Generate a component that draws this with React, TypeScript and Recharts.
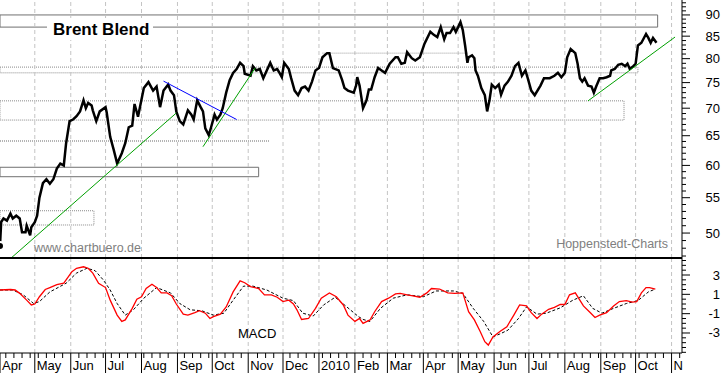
import React from 'react';
import { LineChart, Line, XAxis, YAxis, ReferenceLine, ReferenceArea } from 'recharts';

// x values are days counted from 1 Apr 2009
const monthDays = [0, 30, 61, 91, 122, 153, 183, 214, 244, 275, 306, 334, 365, 395, 426, 456, 487, 518, 548, 579];
const monthLabels = ['Apr', 'May', 'Jun', 'Jul', 'Aug', 'Sep', 'Oct', 'Nov', 'Dec', '2010', 'Feb', 'Mar', 'Apr', 'May', 'Jun', 'Jul', 'Aug', 'Sep', 'Oct', 'N'];

const priceDays = [0, 1, 3, 6, 9, 11, 14, 17, 19, 22, 23, 26, 27, 30, 32, 34, 37, 40, 43, 46, 49, 52, 55, 57, 60, 63, 66, 69, 72, 74, 76, 79, 80, 83, 86, 91, 92, 95, 98, 101, 105, 108, 111, 114, 116, 119, 124, 128, 132, 135, 138, 141, 145, 147, 150, 152, 155, 158, 162, 165, 167, 170, 173, 175, 177, 180, 182, 185, 187, 190, 192, 195, 198, 201, 204, 207, 210, 211, 216, 218, 221, 224, 227, 230, 233, 236, 239, 241, 243, 245, 249, 251, 254, 257, 260, 263, 266, 269, 272, 275, 278, 282, 284, 287, 292, 295, 297, 300, 305, 307, 308, 310, 313, 316, 318, 320, 323, 326, 329, 332, 336, 341, 343, 346, 349, 351, 355, 358, 362, 366, 371, 374, 377, 380, 383, 385, 388, 391, 393, 395, 397, 399, 401, 403, 404, 407, 409, 410, 412, 415, 418, 420, 422, 424, 427, 430, 432, 435, 438, 441, 444, 447, 450, 453, 455, 458, 461, 466, 469, 474, 478, 481, 484, 487, 489, 492, 496, 498, 500, 502, 504, 507, 510, 512, 514, 517, 520, 523, 526, 527, 530, 533, 536, 539, 541, 543, 546, 548, 550, 553, 557, 559, 561, 563, 566];
const priceValues = [48.3, 51.5, 52, 51.7, 52.7, 52, 52.4, 52, 50.1, 50.1, 51, 49.7, 50.8, 51.5, 52.4, 55, 57.2, 57.8, 57.1, 57.8, 59.5, 60.3, 60, 63.7, 67.6, 67.9, 68.5, 69.4, 71.5, 70, 71, 70.5, 69.6, 67.6, 69.4, 70.2, 69.2, 64.8, 62.6, 60.3, 62, 63.7, 66.5, 66.8, 70.8, 68.4, 73.9, 75.1, 73.4, 74.2, 70.2, 73.4, 74.6, 73.4, 72.5, 69.4, 67.6, 67, 69.6, 68.8, 67.9, 71.5, 70.2, 69.4, 66.3, 65.1, 66.5, 68.8, 67.9, 68.8, 70, 73, 75.5, 77, 77.8, 79.1, 78.4, 76.8, 76.4, 78.4, 77.5, 77.8, 75.9, 77.5, 79.1, 77.5, 77.8, 77, 76.1, 79.1, 77.8, 75.9, 73.4, 72.5, 73.9, 74.2, 73.4, 75.2, 77.5, 78, 80.3, 81.2, 81.2, 78, 77.5, 75.5, 73.9, 73.4, 73, 74.4, 76.1, 74.4, 70, 71.5, 73.6, 73.6, 76.1, 78, 77.5, 77, 78.9, 80.3, 80.3, 78.9, 79.1, 81.4, 80.1, 79.6, 80.3, 83.3, 86, 85.3, 84.8, 87.1, 84.3, 85.7, 85.7, 87.1, 86, 87.1, 88.3, 86.4, 82.9, 79.1, 80.3, 80.7, 80.1, 77.5, 76.4, 73.9, 72.5, 69.4, 71.5, 74.6, 73.9, 74.6, 72.6, 74.4, 75.2, 76.4, 78.4, 79.1, 76.4, 77.5, 75.9, 73.4, 72.5, 74.4, 75.9, 75.9, 76.4, 77, 76.1, 77, 80.3, 82.1, 81.2, 78.9, 75.9, 75.2, 75.9, 74.4, 74.2, 73, 74.2, 75.9, 75.9, 76.1, 76.4, 77.5, 77.8, 78.7, 78.9, 78.4, 78.9, 77.8, 78.4, 78.9, 82.9, 83.5, 85.5, 84.6, 83.5, 84.6, 83.5];

const macdDays = [0, 9, 13, 17, 23, 27, 30, 34, 39, 43, 49, 55, 57, 62, 66, 72, 76, 80, 85, 91, 95, 101, 105, 108, 114, 118, 122, 126, 131, 135, 139, 144, 148, 152, 158, 162, 168, 172, 177, 181, 184, 190, 195, 201, 207, 211, 216, 223, 228, 234, 239, 244, 249, 253, 256, 260, 266, 272, 277, 284, 290, 296, 300, 306, 310, 313, 319, 323, 329, 335, 341, 345, 351, 356, 362, 368, 372, 379, 386, 392, 399, 404, 409, 414, 418, 421, 425, 431, 437, 443, 448, 454, 458, 463, 467, 473, 478, 483, 487, 491, 496, 503, 509, 513, 517, 523, 529, 534, 540, 545, 549, 553, 557, 560, 565];
const macdValues = [1.45, 1.5, 1.45, 1.1, 0.4, -0.1, 0, 0.75, 1.5, 1.7, 2.0, 2.15, 2.5, 3.35, 3.7, 3.85, 3.7, 3.2, 2.15, 1.7, 0.4, -1.15, -1.8, -1.65, -0.45, 0.5, 0.75, 1.6, 2.05, 1.7, 1.15, 1.15, 0.85, 0, -1.05, -1.15, -0.9, -0.7, -0.95, -1.5, -1.3, -1.05, -0.3, 1.25, 2.4, 2.2, 1.8, 1.6, 0.95, 0.95, 0.7, 0.25, 0.4, 0, -0.6, -1.6, -1.5, -0.45, 0.6, 1.15, 0.75, -0.1, -1.15, -1.8, -1.5, -2.0, -1.65, -0.8, 0.25, 0.6, 1.05, 1.1, 0.95, 0.85, 0.7, 1.15, 1.6, 1.55, 1.15, 1.1, 1.15, -0.8, -1.65, -2.85, -3.9, -4.25, -3.4, -2.85, -2.35, -1.15, -0.1, -0.2, -0.9, -1.5, -1.05, -0.55, -0.35, -0.05, -0.05, 0.95, 1.15, -0.2, -0.9, -1.4, -1.15, -0.9, -0.2, 0.25, 0.35, 0.2, 0.25, 1.15, 1.7, 1.7, 1.55];

const signalDays = [0, 11, 20, 29, 34, 43, 57, 66, 75, 82, 89, 95, 101, 108, 115, 124, 135, 147, 155, 164, 174, 184, 193, 201, 210, 218, 230, 244, 253, 261, 270, 279, 289, 299, 309, 313, 319, 328, 339, 351, 365, 376, 391, 399, 408, 417, 425, 431, 438, 447, 454, 463, 471, 483, 494, 503, 511, 519, 529, 540, 550, 559, 565];
const signalValues = [1.45, 1.45, 0.95, 0.05, 0.25, 1.25, 2.15, 3.2, 3.7, 3.45, 2.5, 1.45, 0.05, -1.15, -0.6, 0.6, 1.7, 1.15, 0.05, -0.6, -0.7, -1.15, -0.95, 0.4, 1.85, 1.85, 1.45, 0.6, 0.35, -0.95, -1.25, -0.1, 0.7, -0.3, -1.3, -1.6, -1.8, -0.45, 0.6, 0.95, 0.75, 1.35, 1.35, 1.1, -0.45, -1.8, -3.4, -3.1, -2.7, -1.5, -0.3, -1.05, -0.95, -0.4, 0.4, 0.85, -0.45, -0.95, -0.45, 0.05, 0.35, 1.25, 1.55];

// support / resistance boxes: [fromDay, toDay, low, high]
const boxes = [
  [0, 567, 87.1, 90],
  [0, 550, 77.0, 78.2],
  [0, 538, 67.8, 71.4],
  [0, 223, 58.2, 59.7],
  [0, 81, 51.1, 53.1],
];
// trend lines: [day1, value1, day2, value2]
const greenLines = [
  [10, 46.8, 152, 69.1],
  [175, 63.1, 220, 78.0],
  [507, 71.4, 582, 84.8],
];
const blueLine = [141, 75.3, 204, 67.9];
const macdLabels = [-3, -1, 1, 3];

const priceData = priceDays.map((day, i) => ({ day, price: priceValues[i] }));
const macdData = macdDays.map((day, i) => ({ day, macd: macdValues[i] }));
const signalData = signalDays.map((day, i) => ({ day, signal: signalValues[i] }));

const X_DOMAIN: [number, number] = [0, 588];
const PRICE_DOMAIN: [number, number] = [46.75, 93.7];
const MACD_DOMAIN: [number, number] = [-5.07, 4.76];

const priceTicks: number[] = [];
for (let v = 47; v <= 93; v++) priceTicks.push(v);
const macdTicks: number[] = [];
for (let v = -5; v <= 4.5; v += 0.5) macdTicks.push(v);
const weekDays: number[] = [];
for (let d = 5; d < 588; d += 7) if (!monthDays.some((m) => Math.abs(m - d) < 2)) weekDays.push(d);
const dateTicks = [...monthDays, ...weekDays].sort((a, b) => a - b);

const font = 'Arial, "Liberation Sans", sans-serif';
const narrow = '"Liberation Sans Narrow", Arial, sans-serif';

const PriceTick = (props: any) => {
  const { x, y, payload } = props;
  const major = payload.value % 5 === 0;
  return (
    <g>
      <line x1={x} x2={x + (major ? 8 : 4)} y1={y} y2={y} stroke="#000" />
      {major && (
        <text x={x + 38} y={y + 4.5} textAnchor="end" fontSize={13} fontFamily={font} fill="#000">
          {payload.value}
        </text>
      )}
    </g>
  );
};

const MacdTick = (props: any) => {
  const { x, y, payload } = props;
  const major = macdLabels.includes(payload.value);
  return (
    <g>
      <line x1={x} x2={x + (major ? 8 : 4)} y1={y} y2={y} stroke="#000" />
      {major && (
        <text x={x + 38} y={y + 4.5} textAnchor="end" fontSize={13} fontFamily={font} fill="#000">
          {payload.value}
        </text>
      )}
    </g>
  );
};

const DateTick = (props: any) => {
  const { x, y, payload } = props;
  const i = monthDays.indexOf(payload.value);
  if (i < 0) return <line x1={x} x2={x} y1={y} y2={y + 5} stroke="#000" />;
  return (
    <g>
      <line x1={x} x2={x} y1={y} y2={y + 20} stroke="#000" />
      <text x={x + 2} y={y + 17} fontSize={13} fontFamily={narrow} fill="#000">
        {monthLabels[i]}
      </text>
    </g>
  );
};

const gridLines = monthDays.slice(1).map((d) => (
  <ReferenceLine key={'g' + d} x={d} stroke="#c4c4c4" strokeDasharray="4 3" />
));

export default function App() {
  return (
    <div style={{ position: 'absolute', left: 0, top: 0, width: 723, height: 373, background: '#fff', overflow: 'hidden' }}>
      <div style={{ position: 'absolute', left: 0, top: 0 }}>
        <LineChart width={723} height={258} margin={{ top: 0, right: 0, bottom: 0, left: 0 }}>
          <XAxis type="number" dataKey="day" domain={X_DOMAIN} allowDataOverflow hide />
          <YAxis
            orientation="right"
            width={41}
            scale="log"
            domain={PRICE_DOMAIN}
            allowDataOverflow
            ticks={priceTicks}
            interval={0}
            tick={<PriceTick />}
            tickSize={0}
            tickMargin={0}
            tickLine={false}
            axisLine={{ stroke: '#000' }}
          />
          {gridLines}
          {boxes.map((b, i) => (
            <ReferenceArea
              key={'b' + i}
              x1={b[0]}
              x2={b[1]}
              y1={b[2]}
              y2={b[3]}
              fill="none"
              fillOpacity={0}
              stroke={i === 0 || i === 3 ? '#707070' : '#8a8a8a'}
              strokeDasharray={i === 0 || i === 3 ? undefined : '1 1'}
              ifOverflow="visible"
            />
          ))}
          <ReferenceLine segment={[{ x: 278, y: 81.2 }, { x: 403, y: 81.2 }]} stroke="#9a9a9a" strokeDasharray="1 1" />
          <ReferenceLine segment={[{ x: 0, y: 64.1 }, { x: 232, y: 64.1 }]} stroke="#b4b4b4" strokeWidth={2} strokeDasharray="1 1" />
          <Line data={priceData} dataKey="price" type="linear" stroke="#000" strokeWidth={2.5} dot={false} isAnimationActive={false} />
          {greenLines.map((g, i) => (
            <ReferenceLine key={'t' + i} segment={[{ x: g[0], y: g[1] }, { x: g[2], y: g[3] }]} stroke="#00a000" strokeWidth={1} ifOverflow="visible" />
          ))}
          <ReferenceLine segment={[{ x: blueLine[0], y: blueLine[1] }, { x: blueLine[2], y: blueLine[3] }]} stroke="#0000ff" strokeWidth={1} ifOverflow="visible" />
        </LineChart>
      </div>
      <div style={{ position: 'absolute', left: 0, top: 258 }}>
        <LineChart width={723} height={115} margin={{ top: 0, right: 0, bottom: 0, left: 0 }}>
          <XAxis
            type="number"
            dataKey="day"
            domain={X_DOMAIN}
            allowDataOverflow
            ticks={dateTicks}
            interval={0}
            tick={<DateTick />}
            tickSize={0}
            tickMargin={0}
            tickLine={false}
            height={20}
            axisLine={{ stroke: '#000' }}
          />
          <YAxis
            orientation="right"
            width={41}
            domain={MACD_DOMAIN}
            allowDataOverflow
            ticks={macdTicks}
            interval={0}
            tick={<MacdTick />}
            tickSize={0}
            tickMargin={0}
            tickLine={false}
            axisLine={{ stroke: '#000' }}
          />
          {gridLines}
          <Line data={signalData} dataKey="signal" type="linear" stroke="#000" strokeWidth={1} strokeDasharray="3 2" dot={false} isAnimationActive={false} />
          <Line data={macdData} dataKey="macd" type="linear" stroke="#ff0000" strokeWidth={1.3} dot={false} isAnimationActive={false} />
        </LineChart>
      </div>
      <div style={{ position: 'absolute', left: 0, top: 257, width: 682, height: 2, background: '#000' }} />
      <svg width={723} height={373} style={{ position: 'absolute', left: 0, top: 0, pointerEvents: 'none' }}>
        <rect x={47} y={18} width={106} height={22} fill="#fff" />
        <text x={53} y={35} fontSize={17} fontWeight="bold" fontFamily={font} fill="#000">Brent Blend</text>
        <text x={34} y={252} fontSize={12.5} fontFamily={font} fill="#808080">www.chartbuero.de</text>
        <text x={668} y={248} fontSize={12.5} fontFamily={font} fill="#808080" textAnchor="end">Hoppenstedt-Charts</text>
        <text x={238} y={338} fontSize={13} fontFamily={font} fill="#000">MACD</text>
      </svg>
    </div>
  );
}
